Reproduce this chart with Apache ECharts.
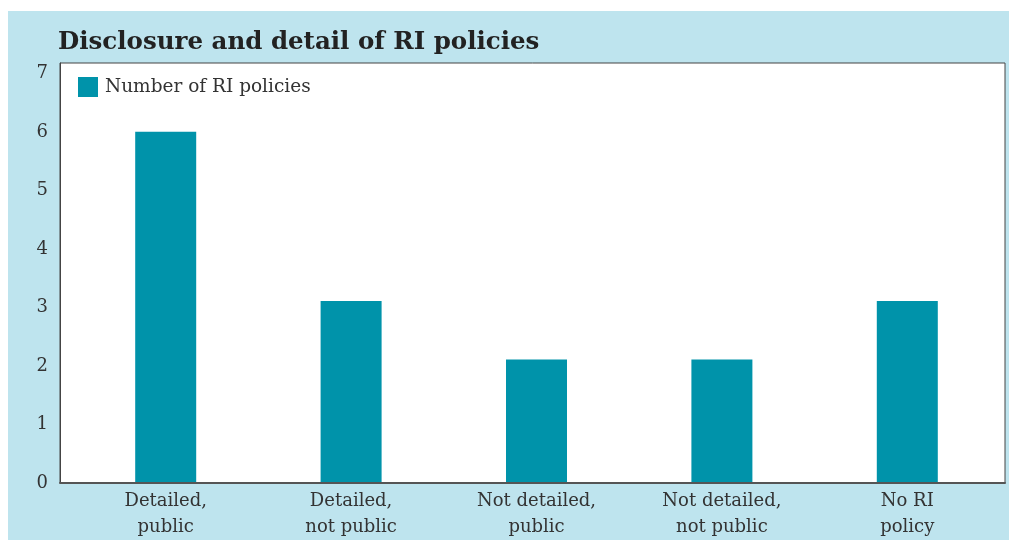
<!DOCTYPE html>
<html><head><meta charset="utf-8">
<script src="https://cdn.jsdelivr.net/npm/echarts@6/dist/echarts.min.js"></script>
<style>html,body{margin:0;padding:0;background:#fff}#c{width:1009px;height:540px}</style>
</head><body><div id="c"></div>
<script>
const categories = ["Detailed,\npublic", "Detailed,\nnot public", "Not detailed,\npublic", "Not detailed,\nnot public", "No RI\npolicy"];
const values = [6, 3.1, 2.1, 2.1, 3.1];
const seriesName = "Number of RI policies";
const titleText = "Disclosure and detail of RI policies";

const chart = echarts.init(document.getElementById('c'));
const serif = "'DejaVu Serif', 'Liberation Serif', serif";
chart.setOption({
  backgroundColor: '#ffffff',
  animation: false,
  graphic: [{type:'rect', z:-10, shape:{x:8,y:11,width:1001,height:529}, style:{fill:'#bee4ee'}}],
  title: {text: titleText, left: 53, top: 25, textStyle:{fontFamily:serif, fontWeight:'bold', fontSize:24.5, color:'#222'}},
  legend: {left: 73, top: 72, itemWidth: 20, itemHeight: 20, itemGap: 10,
    textStyle:{fontFamily:serif, fontSize:18.5, color:'#333', padding:[0,0,0,2]},
    data:[{name: seriesName, icon:'rect'}]},
  grid: [
    {left: 73, top: 63, right: 9, bottom: 57, show: false},
    {left: 60, top: 63, right: 4, bottom: 57, show: true, backgroundColor:'#fff', borderColor:'#444', borderWidth:1, z:-1}
  ],
  xAxis: [
    {type:'category', data: categories, gridIndex:0,
      axisLine:{show:false}, axisTick:{show:false},
      axisLabel:{fontFamily:serif, fontSize:18, color:'#333', lineHeight:26, margin:6}},
    {type:'value', gridIndex:1, min:0, max:1, show:true,
      axisLine:{show:true, lineStyle:{color:'#555', width:2}}, axisTick:{show:false}, axisLabel:{show:false}, splitLine:{show:false}}
  ],
  yAxis: [
    {type:'value', gridIndex:0, min:0, max:7.18, interval:1, show:false, splitLine:{show:false}},
    {type:'value', gridIndex:1, min:0, max:7.18, interval:1,
      axisLine:{show:true, lineStyle:{color:'#444', width:1}}, splitLine:{show:false}, axisTick:{show:false},
      axisLabel:{fontFamily:serif, fontSize:18, color:'#333', margin:12, showMaxLabel:false,
        formatter: v => Number.isInteger(v) ? String(v) : ''}}
  ],
  series: [{name: seriesName, type:'bar', xAxisIndex:0, yAxisIndex:0, data: values, barWidth: 61, itemStyle:{color:'#0093aa'}}]
});
</script></body></html>
